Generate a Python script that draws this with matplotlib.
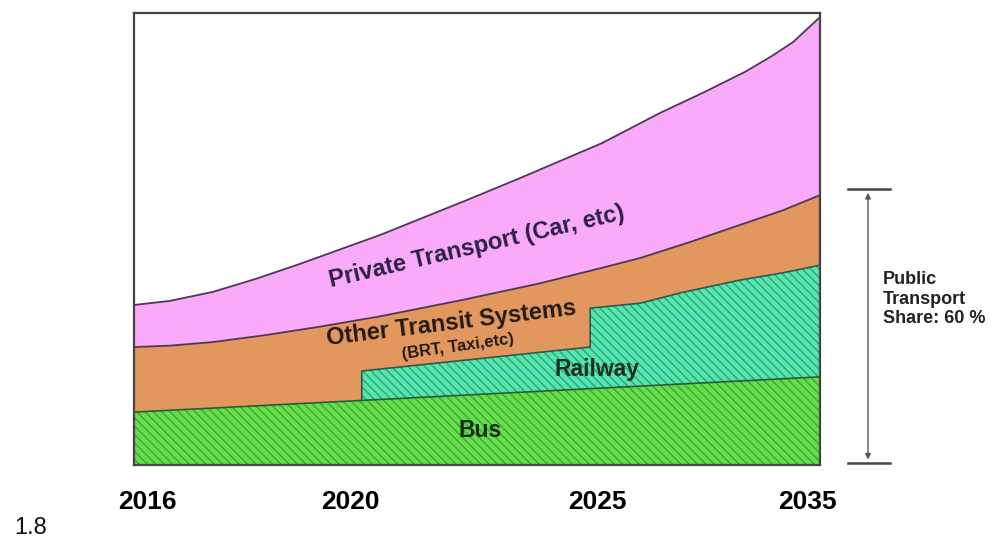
"""
Modal split outlook 2016-2035: stacked areas for bus, railway,
other transit and private transport, with the public share bracket.
"""

import matplotlib.pyplot as plt
import matplotlib.transforms as mtransforms
import numpy as np

# x is the position along the timeline (0 = left edge, 100 = right edge),
# y is the share of chart height (0-100)
YEAR_LABELS = ["2016", "2020", "2025", "2035"]
YEAR_POS = [2.0, 31.5, 67.5, 98.1]

BUS_X = [0, 100]
BUS_TOP = [11.7, 19.5]

RAIL_X = [33.2, 66.5, 66.5, 73.8, 79.7, 88.3, 94.5, 100]
RAIL_TOP = [20.8, 26.1, 34.7, 35.8, 38.1, 40.9, 42.5, 44.2]

OTHER_X = [0, 5.2, 11.5, 19.0, 26.7, 35.9, 47.5, 59.2, 67.9, 73.8, 81.0, 88.3, 94.5, 100]
OTHER_TOP = [26.1, 26.4, 27.2, 28.7, 30.5, 32.9, 36.4, 40.2, 43.5, 45.8, 49.3, 53.1, 56.3, 59.7]

PRIV_X = [0, 5.2, 11.5, 17.8, 24.2, 35.9, 48.5, 56.0, 63.1, 68.2, 76.7, 83.0, 89.1, 93.0, 96.1, 100]
PRIV_TOP = [35.4, 36.3, 38.3, 41.2, 44.5, 50.9, 58.6, 63.3, 67.9, 71.2, 77.9, 82.4, 87.0, 90.5, 93.6, 99.1]

PUBLIC_SHARE = 61

C_PRIV = "#f9aaf8"
C_OTHER = "#e2975f"
C_RAIL, C_RAIL_HATCH = "#55e6ae", "#33a87e"
C_BUS, C_BUS_HATCH = "#66de4a", "#42a83a"
EDGE = "#4b3a55"

ARIAL = ["Liberation Sans", "DejaVu Sans"]

plt.rcParams["hatch.linewidth"] = 1.1

fig = plt.figure(figsize=(9.91, 5.42), dpi=100)
ax = fig.add_axes([134 / 991, 77 / 542, 686 / 991, 452 / 542])
ax.set_xlim(0, 100)
ax.set_ylim(0, 100)

# private transport band (between other transit and private curve)
ax.fill(PRIV_X + OTHER_X[::-1], PRIV_TOP + OTHER_TOP[::-1],
        facecolor=C_PRIV, edgecolor="none", zorder=1)
# other transit systems (everything below its curve, covered later)
ax.fill_between(OTHER_X, 0, OTHER_TOP, facecolor=C_OTHER,
                edgecolor="none", zorder=2)

# railway sits on top of the bus band
rail_base = np.interp([RAIL_X[-1], RAIL_X[0]], BUS_X, BUS_TOP)
rail_px = RAIL_X + [RAIL_X[-1], RAIL_X[0]]
rail_py = RAIL_TOP + list(rail_base)
ax.fill(rail_px, rail_py, facecolor=C_RAIL, edgecolor=C_RAIL_HATCH,
        hatch="\\\\\\\\", linewidth=0, zorder=3)

ax.fill_between(BUS_X, 0, BUS_TOP, facecolor=C_BUS, edgecolor=C_BUS_HATCH,
                hatch="\\\\\\\\", linewidth=0, zorder=3)

# outlines
ax.plot(PRIV_X, PRIV_TOP, color=EDGE, lw=1.3, zorder=4)
ax.plot(OTHER_X, OTHER_TOP, color=EDGE, lw=1.3, zorder=4)
ax.plot([RAIL_X[0]] + RAIL_X, [rail_base[1]] + RAIL_TOP,
        color="#2e5a48", lw=1.2, zorder=4)
ax.plot(BUS_X, BUS_TOP, color="#2e5a38", lw=1.2, zorder=4)

# labels inside the areas
ax.text(50.0, 48.2, "Private Transport (Car, etc)", rotation=13,
        rotation_mode="anchor", ha="center", va="center", fontsize=17,
        fontweight="bold", family=ARIAL, color="#2a1f45", zorder=5)
ax.text(46.2, 31.4, "Other Transit Systems", rotation=7,
        rotation_mode="anchor", ha="center", va="center", fontsize=17,
        fontweight="bold", family=ARIAL, color="#231a14", zorder=5)
ax.text(47.2, 26.1, "(BRT, Taxi,etc)", rotation=8,
        rotation_mode="anchor", ha="center", va="center", fontsize=12,
        fontweight="bold", family=ARIAL, color="#231a14", zorder=5)
ax.text(67.5, 21.2, "Railway", ha="center", va="center", fontsize=16.5,
        fontweight="bold", family=ARIAL, color="#1c2e26", zorder=5)
ax.text(50.4, 7.7, "Bus", ha="center", va="center", fontsize=16.5,
        fontweight="bold", family=ARIAL, color="#1c2a18", zorder=5)

for side in ["left", "right", "top", "bottom"]:
    ax.spines[side].set_color("#444444")
    ax.spines[side].set_linewidth(1.6)
    ax.spines[side].set_zorder(6)

ax.set_yticks([])
ax.set_xticks(YEAR_POS)
ax.set_xticklabels(YEAR_LABELS, fontsize=19, fontweight="bold", family=ARIAL)
ax.tick_params(axis="x", length=0, pad=18)

# public transport share bracket on the right
bt = mtransforms.blended_transform_factory(ax.transAxes, ax.transData)
for yv in [PUBLIC_SHARE, 0.4]:
    ax.plot([1.041, 1.102], [yv, yv], color="#444444", lw=1.8,
            transform=bt, clip_on=False)
ax.annotate("", xy=(1.070, 1.2), xytext=(1.070, PUBLIC_SHARE - 0.8),
            xycoords=bt, textcoords=bt,
            arrowprops=dict(arrowstyle="<|-|>", color="#555555", lw=1,
                            mutation_scale=8, shrinkA=0, shrinkB=0))
fig.text(883 / 991, 1 - 299 / 542, "Public\nTransport\nShare: 60 %",
         ha="left", va="center", fontsize=13, fontweight="bold",
         family=ARIAL, color="#222222", linespacing=1.2)

fig.text(31 / 991, 1 - 528 / 542, "1.8", ha="center", va="center",
         fontsize=17, family=ARIAL, color="#111111")

fig.savefig("out.png", dpi=100)
